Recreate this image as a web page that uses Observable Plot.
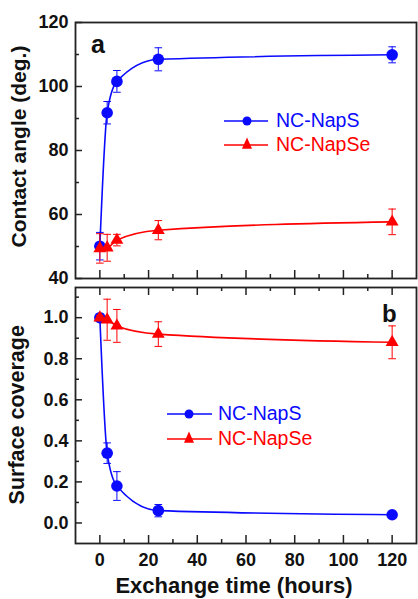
<!DOCTYPE html>
<html>
<head>
<meta charset="utf-8">
<script src="https://cdn.jsdelivr.net/npm/d3@7"></script>
<script src="https://cdn.jsdelivr.net/npm/@observablehq/plot@0.6"></script>
<style>
  html, body { margin: 0; padding: 0; background: #fff; }
  #chart { position: relative; width: 418px; height: 599px; overflow: hidden; background: #fff;
           font-family: "Liberation Sans", Arial, sans-serif; }
  .abs { position: absolute; white-space: nowrap; }
  #chart svg.plotpanel text { font-size: 18px !important; font-weight: bold !important;
           font-family: "Liberation Sans", Arial, sans-serif !important; fill: #111; }
</style>
</head>
<body>
<div id="chart"></div>
<script>
// ---------- data ----------
const hours = [0, 3, 7, 24, 120];
const seriesNames = ["NC-NapS", "NC-NapSe"];
const seriesColors = ["#0a0aff", "#ff0000"];
// panel a: contact angle (deg.)
const angleNapS = [50.1, 91.8, 101.6, 108.5, 109.9];
const angleNapSErr = [4.3, 3.5, 3.4, 3.6, 2.5];
const angleNapSe = [49.4, 49.6, 52.0, 55.1, 57.7];
const angleNapSeErr = [4.6, 4.2, 1.8, 3.0, 4.0];
// panel b: surface coverage
const covNapS = [1.0, 0.34, 0.18, 0.06, 0.04];
const covNapSErr = [0.0, 0.05, 0.07, 0.03, 0.015];
const covNapSe = [1.0, 0.99, 0.96, 0.92, 0.88];
const covNapSeErr = [0.01, 0.10, 0.08, 0.06, 0.08];
// ticks
const xMajor = [0, 20, 40, 60, 80, 100, 120];
const xMinor = [10, 30, 50, 70, 90, 110];
const yMajorA = [40, 60, 80, 100, 120];
const yMinorA = [50, 70, 90, 110];
const yMajorB = [0.0, 0.2, 0.4, 0.6, 0.8, 1.0];
const yMinorB = [0.1, 0.3, 0.5, 0.7, 0.9, 1.1];

// ---------- helpers ----------
function rows(values, errors, series) {
  return hours.map((h, i) => ({series, x: h, y: values[i], lo: values[i] - errors[i], hi: values[i] + errors[i]}));
}
const capSymbol = { draw(ctx, size) { const w = Math.sqrt(size / Math.PI); ctx.moveTo(-w, 0); ctx.lineTo(w, 0); } };
const W = 418, ML = 75, MR = 2;
const innerW = W - ML - MR;
const frameColor = "#222";

function seriesMarks(data, color, symbol, r) {
  return [
    Plot.line(data, {x: "x", y: "y", curve: "monotone-x", stroke: color, strokeWidth: 1.6}),
    Plot.ruleX(data, {x: "x", y1: "lo", y2: "hi", stroke: color, strokeWidth: 1}),
    Plot.dot(data, {x: "x", y: "hi", symbol: capSymbol, r: 3.8, stroke: color, strokeWidth: 1, fill: "none"}),
    Plot.dot(data, {x: "x", y: "lo", symbol: capSymbol, r: 3.8, stroke: color, strokeWidth: 1, fill: "none"}),
    Plot.dot(data, {x: "x", y: "y", symbol, r, fill: color, stroke: "none"})
  ];
}

function panel({height, marginTop, marginBottom, yDomain, yMajor, yMinor, yFormat, sets, showX, topTicks}) {
  const innerH = height - marginTop - marginBottom;
  const marks = [];
  for (const s of sets) marks.push(...seriesMarks(s.data, s.color, s.symbol, s.r));
  marks.push(
    Plot.tickY(yMajor, {y: d => d, insetRight: innerW - 7, stroke: frameColor, strokeWidth: 1.5}),
    Plot.tickY(yMinor, {y: d => d, insetRight: innerW - 4, stroke: frameColor, strokeWidth: 1.5}),
    Plot.tickX(xMajor, {x: d => d, insetTop: innerH - 8, stroke: frameColor, strokeWidth: 1.5}),
    Plot.tickX(xMinor, {x: d => d, insetTop: innerH - 4, stroke: frameColor, strokeWidth: 1.5})
  );
  if (topTicks) marks.push(
    Plot.tickX(xMajor, {x: d => d, insetBottom: innerH - 8, stroke: frameColor, strokeWidth: 1.5}),
    Plot.tickX(xMinor, {x: d => d, insetBottom: innerH - 4, stroke: frameColor, strokeWidth: 1.5})
  );
  marks.push(Plot.frame({stroke: frameColor, strokeWidth: 1.8}));
  const svg = Plot.plot({
    width: W, height, marginTop, marginBottom, marginLeft: ML, marginRight: MR,
    style: {fontFamily: "'Liberation Sans', Arial, sans-serif", fontSize: "18px", fontWeight: "bold", color: "#111", background: "transparent", overflow: "visible"},
    x: {domain: [-10, 130], ticks: xMajor, tickSize: 0, tickPadding: 10, label: null, axis: showX ? "bottom" : null, tickFormat: d3.format("d")},
    y: {domain: yDomain, ticks: yMajor, tickSize: 0, tickPadding: 7, label: null, tickFormat: yFormat},
    marks
  });
  svg.classList.add("plotpanel");
  return svg;
}

const chart = document.getElementById("chart");

const plotA = panel({
  height: 283, marginTop: 22, marginBottom: 5,
  yDomain: [40, 120], yMajor: yMajorA, yMinor: yMinorA, yFormat: d3.format("d"),
  sets: [
    {data: rows(angleNapS, angleNapSErr, seriesNames[0]), color: seriesColors[0], symbol: "circle", r: 5.8},
    {data: rows(angleNapSe, angleNapSeErr, seriesNames[1]), color: seriesColors[1], symbol: "triangle", r: 4.8}
  ],
  showX: false, topTicks: false
});
plotA.style.position = "absolute"; plotA.style.left = "0px"; plotA.style.top = "0px";
chart.appendChild(plotA);

const plotB = panel({
  height: 290, marginTop: 4, marginBottom: 30,
  yDomain: [-0.1, 1.147], yMajor: yMajorB, yMinor: yMinorB, yFormat: d3.format(".1f"),
  sets: [
    {data: rows(covNapS, covNapSErr, seriesNames[0]), color: seriesColors[0], symbol: "circle", r: 5.8},
    {data: rows(covNapSe, covNapSeErr, seriesNames[1]), color: seriesColors[1], symbol: "triangle", r: 4.8}
  ],
  showX: true, topTicks: true
});
plotB.style.position = "absolute"; plotB.style.left = "0px"; plotB.style.top = "283px";
chart.appendChild(plotB);

// ---------- text overlays ----------
function addText(txt, {left, top, size, weight = "bold", color = "#111", width, align = "left", rotate = false}) {
  const d = document.createElement("div");
  d.className = "abs";
  d.textContent = txt;
  d.style.left = left + "px"; d.style.top = top + "px";
  d.style.fontSize = size + "px"; d.style.lineHeight = size + "px";
  d.style.fontWeight = weight; d.style.color = color;
  if (width) { d.style.width = width + "px"; d.style.textAlign = align; }
  if (rotate) { d.style.transform = "rotate(-90deg)"; d.style.transformOrigin = "50% 50%"; }
  chart.appendChild(d);
  return d;
}
// y titles (rotated), centered at (cx, cy)
function yTitle(txt, cx, cy, size) {
  const w = 260;
  addText(txt, {left: cx - w / 2, top: cy - size / 2, size, width: w, align: "center", rotate: true});
}
yTitle("Contact angle (deg.)", 18, 146, 21);
yTitle("Surface coverage", 18, 415, 21.5);
addText("Exchange time (hours)", {left: 234 - 160, top: 575, size: 22, width: 320, align: "center"});
// panel letters
addText("a", {left: 91, top: 53 - 0.8465 * 25, size: 25});
addText("b", {left: 382, top: 322 - 0.8465 * 24, size: 24});

// legends
function legend(x0, x1, xm, xt, ys, size) {
  const ns = "http://www.w3.org/2000/svg";
  seriesNames.forEach((name, i) => {
    const y = ys[i];
    const svg = document.createElementNS(ns, "svg");
    svg.setAttribute("width", x1 - x0 + 4); svg.setAttribute("height", 16);
    svg.style.position = "absolute"; svg.style.left = (x0 - 2) + "px"; svg.style.top = (y - 8) + "px";
    const line = document.createElementNS(ns, "line");
    line.setAttribute("x1", 2); line.setAttribute("x2", x1 - x0 + 2); line.setAttribute("y1", 8); line.setAttribute("y2", 8);
    line.setAttribute("stroke", seriesColors[i]); line.setAttribute("stroke-width", 1.6);
    svg.appendChild(line);
    const cx = xm - x0 + 2;
    if (i === 0) {
      const c = document.createElementNS(ns, "circle");
      c.setAttribute("cx", cx); c.setAttribute("cy", 8); c.setAttribute("r", 4.5); c.setAttribute("fill", seriesColors[i]);
      svg.appendChild(c);
    } else {
      const p = document.createElementNS(ns, "path");
      const h = 4.2;
      p.setAttribute("d", `M${cx},${8 - 2 * h * 0.9}L${cx + h * 1.2},${8 + h * 0.9}L${cx - h * 1.2},${8 + h * 0.9}Z`);
      p.setAttribute("fill", seriesColors[i]);
      svg.appendChild(p);
    }
    chart.appendChild(svg);
    addText(name, {left: xt, top: y - size / 2, size, weight: "normal", color: seriesColors[i]});
  });
}
legend(224, 268, 247, 276, [121, 144.5], 19.5);
legend(167, 212, 189, 218, [414, 439], 19.5);
</script>
</body>
</html>
